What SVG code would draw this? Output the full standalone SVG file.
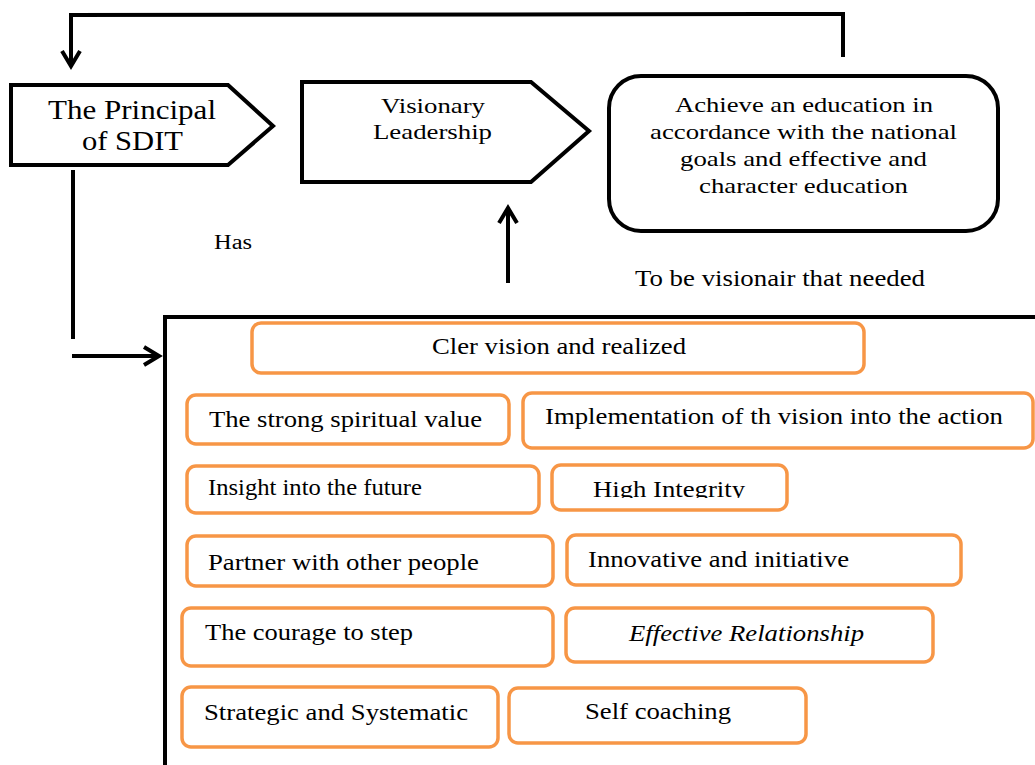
<svg xmlns="http://www.w3.org/2000/svg" width="1035" height="765" viewBox="0 0 1035 765">
<style>
text{fill:#000;font-family:"Times New Roman",Times,"Liberation Serif",Tinos,serif;}
.big{font-size:28px;}
.mid{font-size:22px;}
.lbl{font-size:24px;}
.has{font-size:20px;}
.bx{font-size:24px;}
.blk{fill:#fff;stroke:#000;stroke-width:4;stroke-linejoin:miter;}
.org{fill:#fff;stroke:#F79646;stroke-width:3.5;}
.con{fill:none;stroke:#000;stroke-width:4;}
</style>
<defs>
<marker id="ah" markerUnits="userSpaceOnUse" viewBox="-20 -12 24 24" refX="0" refY="0" markerWidth="24" markerHeight="24" orient="auto">
<path d="M-15,-9 L0,0 L-15,9" fill="none" stroke="#000" stroke-width="4"/>
</marker>
<clipPath id="clipHI"><rect x="550" y="460" width="240" height="38"/></clipPath>
</defs>
<g id="connectors">
<polyline class="con" points="843,57 843,14 71,15 71,66" marker-end="url(#ah)"/>
<line class="con" x1="73" y1="170" x2="73" y2="339"/>
<line class="con" x1="72" y1="356" x2="159" y2="356" marker-end="url(#ah)"/>
<line class="con" x1="508" y1="283" x2="508" y2="208" marker-end="url(#ah)"/>
</g>
<g id="principal">
<polygon class="blk" points="11,85 228,85 273,126 228,165 11,165"/>
<text class="big" x="48" y="119" textLength="168" lengthAdjust="spacingAndGlyphs">The Principal</text>
<text class="big" x="82" y="150" textLength="101" lengthAdjust="spacingAndGlyphs">of SDIT</text>
</g>
<g id="visionary">
<polygon class="blk" points="302,82 531,82 589,131 531,182 302,182"/>
<text class="mid" x="381" y="113" textLength="104" lengthAdjust="spacingAndGlyphs">Visionary</text>
<text class="mid" x="373" y="139" textLength="119" lengthAdjust="spacingAndGlyphs">Leadership</text>
</g>
<g id="achieve">
<rect class="blk" x="609" y="76" width="389" height="155" rx="32" ry="32" stroke-width="3.5"/>
<text class="mid" x="675" y="112" textLength="258" lengthAdjust="spacingAndGlyphs">Achieve an education in</text>
<text class="mid" x="650" y="139" textLength="307" lengthAdjust="spacingAndGlyphs">accordance with the national</text>
<text class="mid" x="680" y="166" textLength="247" lengthAdjust="spacingAndGlyphs">goals and effective and</text>
<text class="mid" x="699" y="193" textLength="209" lengthAdjust="spacingAndGlyphs">character education</text>
</g>
<g id="label-has">
<text class="has" x="214" y="249" textLength="38" lengthAdjust="spacingAndGlyphs">Has</text>
</g>
<g id="label-needed">
<text class="lbl" x="635" y="286" textLength="290" lengthAdjust="spacingAndGlyphs">To be visionair that needed</text>
</g>
<g id="container">
<rect class="blk" x="165" y="317" width="900" height="500"/>
</g>
<g id="cler">
<rect class="org" x="252" y="323" width="612" height="50" rx="9"/>
<text class="bx" x="432" y="354" textLength="254" lengthAdjust="spacingAndGlyphs">Cler vision and realized</text>
</g>
<g id="spiritual">
<rect class="org" x="187" y="395" width="322" height="49" rx="9"/>
<text class="bx" x="209" y="427" textLength="273" lengthAdjust="spacingAndGlyphs">The strong spiritual value</text>
</g>
<g id="implementation">
<rect class="org" x="523" y="393" width="510" height="55" rx="9"/>
<text class="bx" x="545" y="424" textLength="458" lengthAdjust="spacingAndGlyphs">Implementation of th vision into the action</text>
</g>
<g id="insight">
<rect class="org" x="187" y="466" width="352" height="47" rx="9"/>
<text class="bx" x="208" y="495" textLength="214" lengthAdjust="spacingAndGlyphs">Insight into the future</text>
</g>
<g id="integrity">
<rect class="org" x="552" y="465" width="235" height="45" rx="9"/>
<text class="bx" x="593" y="497" textLength="152" lengthAdjust="spacingAndGlyphs" clip-path="url(#clipHI)">High Integrity</text>
</g>
<g id="partner">
<rect class="org" x="187" y="536" width="366" height="50" rx="9"/>
<text class="bx" x="208" y="570" textLength="271" lengthAdjust="spacingAndGlyphs">Partner with other people</text>
</g>
<g id="innovative">
<rect class="org" x="567" y="535" width="394" height="50" rx="9"/>
<text class="bx" x="588" y="567" textLength="261" lengthAdjust="spacingAndGlyphs">Innovative and initiative</text>
</g>
<g id="courage">
<rect class="org" x="182" y="608" width="371" height="58" rx="9"/>
<text class="bx" x="205" y="640" textLength="208" lengthAdjust="spacingAndGlyphs">The courage to step</text>
</g>
<g id="relationship">
<rect class="org" x="566" y="608" width="367" height="54" rx="9"/>
<text class="bx" x="629" y="641" font-style="italic" textLength="235" lengthAdjust="spacingAndGlyphs">Effective Relationship</text>
</g>
<g id="strategic">
<rect class="org" x="182" y="687" width="316" height="60" rx="9"/>
<text class="bx" x="204" y="720" textLength="264" lengthAdjust="spacingAndGlyphs">Strategic and Systematic</text>
</g>
<g id="coaching">
<rect class="org" x="509" y="688" width="297" height="55" rx="9"/>
<text class="bx" x="585" y="719" textLength="146" lengthAdjust="spacingAndGlyphs">Self coaching</text>
</g>
</svg>
